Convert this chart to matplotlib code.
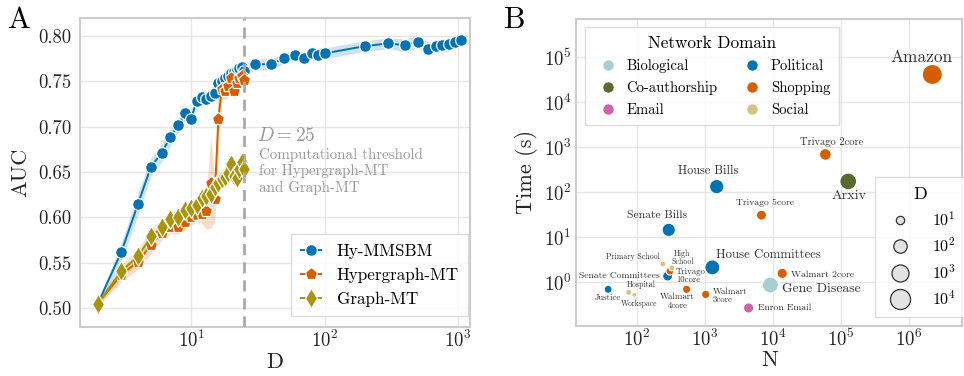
import numpy as np
import matplotlib
matplotlib.use("Agg")
import matplotlib.pyplot as plt
from matplotlib.lines import Line2D
from matplotlib.ticker import NullLocator, LogFormatterSciNotation, FixedLocator

plt.rcParams['font.family'] = ['cmr10', 'DejaVu Serif']
plt.rcParams['mathtext.fontset'] = 'cm'
plt.rcParams['axes.formatter.use_mathtext'] = True
plt.rcParams['axes.unicode_minus'] = False

# ---------------- Panel A data ----------------
D_small = list(range(2, 26))
hy_D = D_small + [30, 40, 50, 60, 70, 80, 90, 100, 200, 300, 400, 500, 600, 680, 760, 850, 950, 1060]
hy_auc = [0.505, 0.562, 0.615, 0.656, 0.671, 0.689, 0.702, 0.715, 0.709, 0.729, 0.733, 0.731,
          0.734, 0.737, 0.748, 0.750, 0.754, 0.756, 0.759, 0.761, 0.763, 0.765, 0.766, 0.762,
          0.769, 0.769, 0.776, 0.779, 0.776, 0.781, 0.779, 0.781,
          0.789, 0.792, 0.790, 0.794, 0.786, 0.789, 0.790, 0.791, 0.794, 0.796]
hy_err = [0.003, 0.010, 0.012, 0.010, 0.010, 0.010, 0.008, 0.008, 0.008, 0.007, 0.007, 0.007,
          0.007, 0.007, 0.007, 0.007, 0.007, 0.007, 0.007, 0.007, 0.007, 0.007, 0.007, 0.007,
          0.006, 0.006, 0.006, 0.006, 0.006, 0.006, 0.006, 0.006,
          0.006, 0.006, 0.007, 0.007, 0.007, 0.007, 0.007, 0.007, 0.007, 0.006]

hmt_auc = [0.505, 0.537, 0.551, 0.570, 0.583, 0.590, 0.589, 0.595, 0.600, 0.603, 0.604, 0.607,
           0.638, 0.620, 0.709, 0.742, 0.740, 0.745, 0.754, 0.739, 0.748, 0.754, 0.756, 0.752]
hmt_err = [0.003, 0.008, 0.008, 0.010, 0.008, 0.008, 0.008, 0.008, 0.008, 0.008, 0.010, 0.020,
           0.050, 0.025, 0.040, 0.012, 0.010, 0.012, 0.010, 0.010, 0.010, 0.010, 0.010, 0.010]

gmt_auc = [0.505, 0.541, 0.557, 0.579, 0.589, 0.598, 0.600, 0.608, 0.610, 0.614, 0.622, 0.624,
           0.626, 0.634, 0.638, 0.642, 0.645, 0.649, 0.659, 0.646, 0.644, 0.653, 0.661, 0.653]
gmt_err = [0.003, 0.008, 0.008, 0.009, 0.009, 0.009, 0.009, 0.009, 0.009, 0.009, 0.009, 0.009,
           0.009, 0.009, 0.010, 0.010, 0.012, 0.012, 0.012, 0.012, 0.012, 0.012, 0.012, 0.012]

threshold_D = 25

# ---------------- Panel B data ----------------
ds_names = ["Amazon", "Trivago 2core", "Arxiv", "House Bills", "Trivago 5core", "Senate Bills",
            "House Committees", "Walmart 2core", "Gene Disease", "Enron Email", "Walmart\n3core",
            "Walmart\n4core", "Senate Committees", "Trivago\n10core", "High\nSchool",
            "Primary School", "Justice", "Hospital", "Workspace"]
ds_N = [2.2e6, 5.9e4, 1.28e5, 1494, 6.8e3, 295, 1290, 1.37e4, 9.2e3, 4.4e3, 1030,
        540, 284, 307, 327, 242, 38, 76, 92]
ds_T = [4.1e4, 690, 174, 133, 31, 14.6, 2.15, 1.58, 0.87, 0.27, 0.54,
        0.70, 1.38, 1.78, 2.1, 2.55, 0.70, 0.60, 0.53]
ds_D = [9500, 41, 780, 170, 19, 93, 250, 21, 480, 21, 10,
        10, 19, 9, 5, 5, 9, 5, 4]
ds_domain = ["Shopping", "Shopping", "Co-authorship", "Political", "Shopping", "Political",
             "Political", "Shopping", "Biological", "Email", "Shopping",
             "Shopping", "Political", "Shopping", "Social", "Social", "Political", "Social", "Social"]
domains = ["Biological", "Co-authorship", "Email", "Political", "Shopping", "Social"]
size_legend_D = [10, 100, 1000, 10000]

# ---------------- styles ----------------
domain_colors = {"Biological": "#a6cfd1", "Co-authorship": "#556b2f", "Email": "#cc62a9",
                 "Political": "#0173b2", "Shopping": "#d55e00", "Social": "#d5c47f"}
# label offsets (points) and alignment
label_pos = {
    "Amazon": (-8, 12, 'center'), "Trivago 2core": (4.3, 8.9, 'center'), "Arxiv": (0.7, -10.8, 'center'),
    "House Bills": (-6.5, 11.5, 'center'), "Trivago 5core": (2.2, 8.6, 'center'),
    "Senate Bills": (-8.6, 10.8, 'center'), "House Committees": (2.9, 8.6, 'left'),
    "Walmart 2core": (6.5, -0.7, 'left'), "Gene Disease": (8.4, -3.1, 'left'),
    "Enron Email": (6.5, 0, 'left'), "Walmart\n3core": (5, -0.7, 'left'),
    "Walmart\n4core": (-6.5, -8.6, 'center'), "Senate Committees": (-5.5, 0, 'right'),
    "Trivago\n10core": (4.3, -3.6, 'left'), "High\nSchool": (7.7, 7.5, 'center'),
    "Primary School": (-2.4, 5, 'right'), "Justice": (0, -6, 'center'),
    "Hospital": (9.4, 5.3, 'center'), "Workspace": (3.6, -6.2, 'center')}

C_HY, C_HMT, C_GMT = "#0173b2", "#d55e00", "#a8930a"
TXT = "#262626"
SPINE = "#cccccc"
GRID = "#e6e6e6"


def size_area(D):
    px2 = 36 + (np.log10(D) - 0.7) * 111.0
    return px2 / (100 / 72) ** 2


fig = plt.figure(figsize=(9.64, 3.76), dpi=100)
axA = fig.add_axes([0.083, 0.130, 0.4046, 0.822])
axB = fig.add_axes([0.598, 0.134, 0.400, 0.815])

for ax in (axA, axB):
    ax.set_facecolor('white')
    for s in ax.spines.values():
        s.set_color(SPINE)
        s.set_linewidth(1.5)
    ax.grid(True, color=GRID, linewidth=1.0, zorder=0)
    ax.set_axisbelow(True)
    ax.tick_params(length=0, labelsize=13.5, colors=TXT)
    ax.tick_params(axis='x', pad=2)
axA.tick_params(axis='y', pad=6)
axB.tick_params(axis='y', pad=3.5)

# ---------------- Panel A ----------------
series = [(hy_D, hy_auc, hy_err, C_HY, 'o', 8.5, "Hy-MMSBM"),
          (D_small, hmt_auc, hmt_err, C_HMT, 'p', 9.5, "Hypergraph-MT"),
          (D_small, gmt_auc, gmt_err, C_GMT, 'd', 10, "Graph-MT")]
for i, (x, y, e, c, m, ms, lab) in enumerate(series):
    x = np.asarray(x); y = np.asarray(y); e = np.asarray(e)
    axA.fill_between(x, y - e, y + e, color=c, alpha=0.2, linewidth=0, zorder=2 + i)
    axA.plot(x, y, color=c, marker=m, markersize=ms, markeredgecolor='white',
             markeredgewidth=0.9, linewidth=1.4, label=lab, zorder=3 + i)

axA.axvline(threshold_D, color='#aaaaaa', linestyle=(0, (4, 2.5)), linewidth=2.0, zorder=6)
axA.annotate('$D = %d$' % threshold_D, xy=(threshold_D, 0.690), xytext=(9, 0),
             textcoords='offset points', color='#999999', fontsize=14, va='center', ha='left')
axA.annotate('Computational threshold\nfor Hypergraph-MT\nand Graph-MT', xy=(threshold_D, 0.651),
             xytext=(10.5, 0), textcoords='offset points', color='#999999', fontsize=10.8,
             va='center', ha='left', linespacing=1.2)

axA.set_xscale('log')
axA.set_xlim(1.47, 1230)
axA.set_ylim(0.479, 0.82)
axA.xaxis.set_major_locator(FixedLocator([10, 100, 1000]))
axA.xaxis.set_major_formatter(LogFormatterSciNotation())
axA.xaxis.set_minor_locator(NullLocator())
axA.set_yticks([0.50, 0.55, 0.60, 0.65, 0.70, 0.75, 0.80])
axA.set_yticklabels(['%.2f' % v for v in [0.50, 0.55, 0.60, 0.65, 0.70, 0.75, 0.80]])
axA.set_xlabel('D', fontsize=16, color=TXT, labelpad=1)
axA.set_ylabel('AUC', fontsize=16, color=TXT, labelpad=6)
legA = axA.legend(loc='lower right', bbox_to_anchor=(0.995, 0.036), borderaxespad=0,
                  fontsize=12.3, frameon=True, fancybox=False, edgecolor='#d5d5d5',
                  handlelength=1.2, handletextpad=0.9, borderpad=0.55, labelspacing=0.5)
legA.get_frame().set_linewidth(1.0)

fig.text(0.008, 0.945, 'A', fontsize=22, color='black', va='center')
fig.text(0.523, 0.945, 'B', fontsize=22, color='black', va='center')

# ---------------- Panel B ----------------
cols = [domain_colors[d] for d in ds_domain]
sizes = [size_area(d) for d in ds_D]
axB.scatter(ds_N, ds_T, s=sizes, c=cols, edgecolors='white', linewidths=0.8, zorder=4)
for name, n, t, d in zip(ds_names, ds_N, ds_T, ds_D):
    dx, dy, ha = label_pos[name]
    axB.annotate(name, xy=(n, t), xytext=(dx, dy), textcoords='offset points',
                 ha=ha, va='center', fontsize=4.3 + 2.05 * np.log10(d), color='#333333',
                 linespacing=0.95, zorder=5)

axB.set_xscale('log')
axB.set_yscale('log')
axB.set_xlim(13, 10 ** 6.78)
axB.set_ylim(10 ** -0.96, 10 ** 5.84)
axB.xaxis.set_major_locator(FixedLocator([1e2, 1e3, 1e4, 1e5, 1e6]))
axB.yaxis.set_major_locator(FixedLocator([1e0, 1e1, 1e2, 1e3, 1e4, 1e5]))
axB.xaxis.set_major_formatter(LogFormatterSciNotation())
axB.yaxis.set_major_formatter(LogFormatterSciNotation())
axB.xaxis.set_minor_locator(NullLocator())
axB.yaxis.set_minor_locator(NullLocator())
axB.set_xlabel('N', fontsize=16, color=TXT, labelpad=1)
axB.set_ylabel('Time (s)', fontsize=16, color=TXT, labelpad=4)

dom_handles = [Line2D([], [], linestyle='none', marker='o', markersize=8,
                      markerfacecolor=domain_colors[d], markeredgecolor='white',
                      markeredgewidth=0.5, label=d) for d in domains]
legB1 = axB.legend(handles=dom_handles, title='Network Domain', ncol=2, loc='upper left',
                   bbox_to_anchor=(0.0215, 0.975), borderaxespad=0, fontsize=10.5,
                   title_fontsize=12.3, frameon=True, fancybox=False, edgecolor='#d5d5d5',
                   handlelength=2.0, handletextpad=0.25, columnspacing=1.4,
                   labelspacing=0.55, borderpad=0.6)
legB1.get_frame().set_linewidth(1.0)
axB.add_artist(legB1)

size_handles = [Line2D([], [], linestyle='none', marker='o',
                       markersize=np.sqrt(size_area(d)), markerfacecolor='#e3e3e3',
                       markeredgecolor='#333333', markeredgewidth=0.9,
                       label='$10^{%d}$' % int(round(np.log10(d)))) for d in size_legend_D]
legB2 = axB.legend(handles=size_handles, title='D', loc='lower right',
                   bbox_to_anchor=(1.01, 0.027), borderaxespad=0, fontsize=11.5,
                   title_fontsize=13, frameon=True, fancybox=False, edgecolor='#d5d5d5',
                   handletextpad=1.0, labelspacing=0.5, borderpad=0.6, handlelength=2.0)
legB2.get_frame().set_linewidth(1.0)

fig.savefig('out.png', dpi=100)
